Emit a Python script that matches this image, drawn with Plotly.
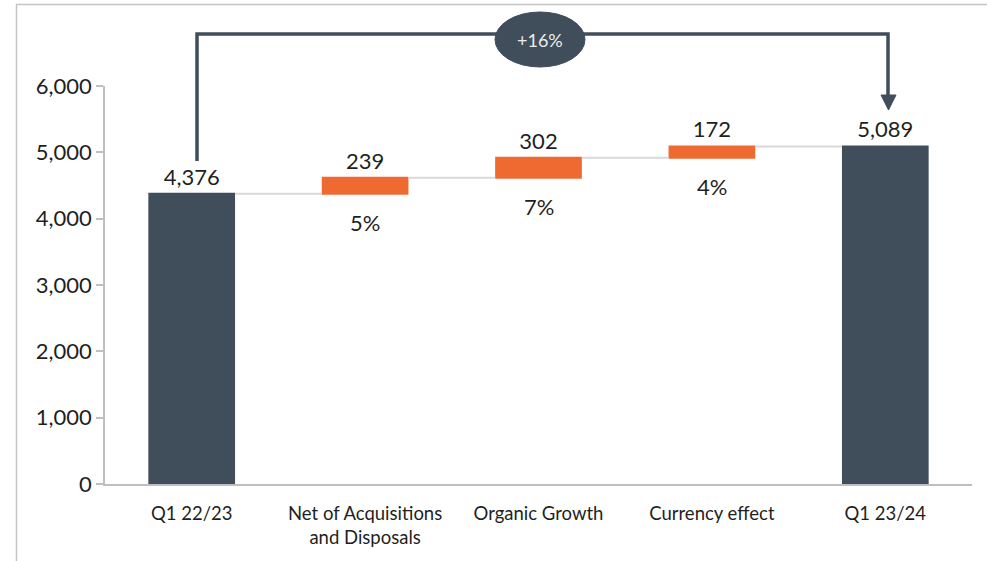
import plotly.graph_objects as go

categories = ["Q1 22/23", "Net of Acquisitions<br>and Disposals", "Organic Growth", "Currency effect", "Q1 23/24"]
values = [4376, 239, 302, 172, 5089]
measures = ["absolute", "relative", "relative", "relative", "total"]
value_labels = ["4,376", "239", "302", "172", "5,089"]
pct_labels = ["", "5%", "7%", "4%", ""]
growth_label = "+16%"
y_ticks = [0, 1000, 2000, 3000, 4000, 5000, 6000]
y_tick_text = ["0", "1,000", "2,000", "3,000", "4,000", "5,000", "6,000"]

DARK = "#404E5B"
ORANGE = "#EE6A30"
FONT = "Lato"
TXT = "#1F1F1F"

W, H = 987, 561
ML, MR, MT, MB = 105, 15, 86, 77
PW, PH = W - ML - MR, H - MT - MB


def px(x):
    return (x - ML) / PW


def py(y):
    return (H - MB - y) / PH


fig = go.Figure(go.Waterfall(
    x=categories,
    y=values,
    measure=measures,
    text=value_labels,
    textposition="outside",
    textfont=dict(family=FONT, size=22, color=TXT),
    increasing=dict(marker=dict(color=ORANGE)),
    decreasing=dict(marker=dict(color=ORANGE)),
    totals=dict(marker=dict(color=DARK)),
    connector=dict(line=dict(color="#D9D9D9", width=2)),
    cliponaxis=False,
    hoverinfo="skip",
))

# percent labels below the change bars
running = 0
for i, (c, v, m, p) in enumerate(zip(categories, values, measures, pct_labels)):
    if m == "absolute":
        running = v
        continue
    if m == "relative":
        base = running
        running += v
        if p:
            fig.add_annotation(x=c, y=base, text=p, showarrow=False,
                               yanchor="middle", yshift=-29,
                               font=dict(family=FONT, size=22, color=TXT))

# bracket arrow
fig.add_shape(type="path", xref="paper", yref="paper",
              path=f"M {px(197)} {py(161)} L {px(197)} {py(34)} L {px(888)} {py(34)} L {px(888)} {py(97)}",
              line=dict(color=DARK, width=3.5))
fig.add_shape(type="path", xref="paper", yref="paper",
              path=f"M {px(881)} {py(95)} L {px(896)} {py(95)} L {px(888.5)} {py(110)} Z",
              fillcolor=DARK, line=dict(color=DARK, width=1))
fig.add_shape(type="circle", xref="paper", yref="paper",
              x0=px(495), x1=px(585), y0=py(12), y1=py(67),
              fillcolor=DARK, line=dict(color=DARK, width=1))
fig.add_annotation(xref="paper", yref="paper", x=px(540), y=py(40), text=growth_label,
                   xanchor="center", yanchor="middle",
                   showarrow=False, font=dict(family=FONT, size=18, color="#E8ECEF"))

# outer frame
fig.add_shape(type="line", xref="paper", yref="paper", x0=px(16), x1=px(990), y0=py(4.5), y1=py(4.5),
              line=dict(color="#C4C4C4", width=1.5))
fig.add_shape(type="line", xref="paper", yref="paper", x0=px(16.5), x1=px(16.5), y0=py(4.5), y1=py(570),
              line=dict(color="#C4C4C4", width=1.5))

fig.update_layout(
    width=W, height=H,
    margin=dict(l=ML, r=MR, t=MT, b=MB),
    paper_bgcolor="white", plot_bgcolor="white",
    showlegend=False,
    waterfallgap=0.5,
    font=dict(family=FONT, color=TXT),
    xaxis=dict(showline=True, linecolor="#BFBFBF", linewidth=2, ticks="",
               tickfont=dict(family=FONT, size=18.5, color=TXT),
               ticklabelstandoff=12,
               showgrid=False, zeroline=False, fixedrange=True),
    yaxis=dict(range=[0, 6000], tickvals=y_ticks, ticktext=y_tick_text,
               showline=True, linecolor="#BFBFBF", linewidth=1.5,
               ticks="outside", ticklen=7, tickcolor="#BFBFBF", tickwidth=1.5,
               tickfont=dict(family=FONT, size=22, color=TXT),
               showgrid=False, zeroline=False, fixedrange=True),
)

fig.write_html("out.html", config={"displayModeBar": False},
               post_script="document.body.style.margin='0';")
